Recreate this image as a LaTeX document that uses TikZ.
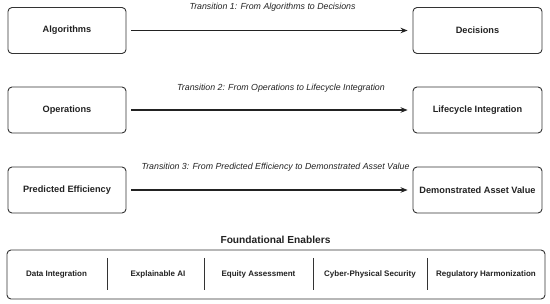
\documentclass[tikz,border=0pt]{standalone}
\usepackage{fontspec}
\setmainfont{Liberation Sans}
\usetikzlibrary{arrows.meta}
\definecolor{ink}{HTML}{222222}
\definecolor{frame}{HTML}{333333}
\begin{document}
\begin{tikzpicture}[x=1pt,y=-1pt,
  stagebox/.style={draw=frame,line width=0.9pt,rounded corners=4pt,minimum height=46pt,inner sep=0pt,font=\bfseries\fontsize{9.2}{10}\selectfont,text=ink},
  leftbox/.style={stagebox,minimum width=118pt},
  rightbox/.style={stagebox,minimum width=129pt},
  trans/.style={font=\itshape\fontsize{8.8}{10}\selectfont,text=ink,inner sep=0pt},
  flow/.style={draw=ink,line width=1.1pt,-{Stealth[length=7pt,width=5.5pt]},shorten <=5pt,shorten >=5pt},
  enabler/.style={font=\bfseries\fontsize{8}{9}\selectfont,text=ink,inner sep=0pt},
  divider/.style={draw=frame,line width=0.9pt}]
\useasboundingbox (0,0) rectangle (550,304);
\fill[white] (0,0) rectangle (550,304);

\node[leftbox] (alg) at (67,30.5) {Algorithms};
\node[rightbox] (dec) at (477.5,30.5) {Decisions};
\node[leftbox] (ops) at (67,110) {Operations};
\node[rightbox] (life) at (477.5,110) {Lifecycle Integration};
\node[leftbox] (pred) at (67,190) {Predicted Efficiency};
\node[rightbox] (demo) at (477.5,190) {Demonstrated Asset Value};

\draw[flow] (alg) -- (dec);
\draw[flow] (ops) -- (life);
\draw[flow] (pred) -- (demo);

\node[trans] (t1) at (272.5,7.5) {Transition 1: From Algorithms to Decisions};
\node[trans] (t2) at (281,88) {Transition 2: From Operations to Lifecycle Integration};
\node[trans] (t3) at (275.5,167) {Transition 3: From Predicted Efficiency to Demonstrated Asset Value};

\node[font=\bfseries\fontsize{10.2}{12}\selectfont,text=ink,inner sep=0pt] (ft) at (275.5,240) {Foundational Enablers};

\draw[draw=frame,line width=0.9pt,rounded corners=4pt] (7,250) rectangle (545,299);
\coordinate (d1a) at (107,258); \coordinate (d1b) at (107,290);
\coordinate (d2a) at (204,258); \coordinate (d2b) at (204,290);
\coordinate (d3a) at (313,258); \coordinate (d3b) at (313,290);
\coordinate (d4a) at (427,258); \coordinate (d4b) at (427,290);
\draw[divider] (d1a) -- (d1b);
\draw[divider] (d2a) -- (d2b);
\draw[divider] (d3a) -- (d3b);
\draw[divider] (d4a) -- (d4b);

\node[enabler] (e1) at (56.5,274) {Data Integration};
\node[enabler] (e2) at (158,274) {Explainable AI};
\node[enabler] (e3) at (258.5,274) {Equity Assessment};
\node[enabler] (e4) at (370,274) {Cyber-Physical Security};
\node[enabler] (e5) at (486,274) {Regulatory Harmonization};
\end{tikzpicture}
\end{document}
